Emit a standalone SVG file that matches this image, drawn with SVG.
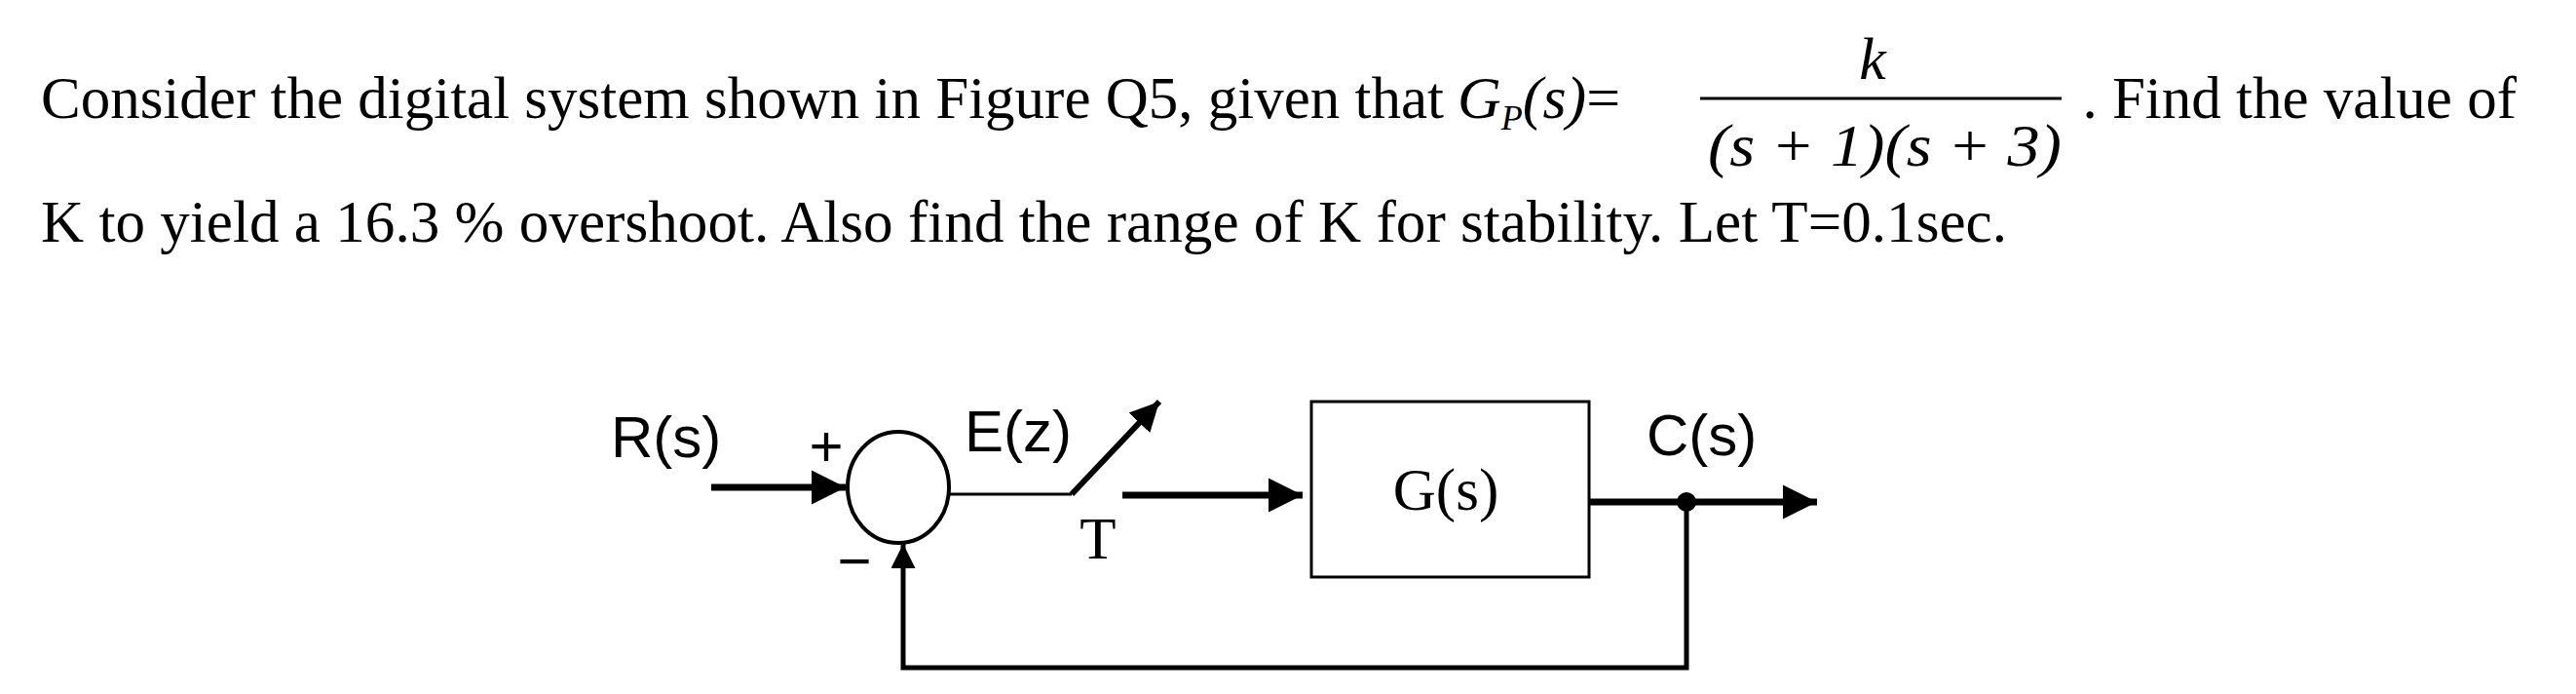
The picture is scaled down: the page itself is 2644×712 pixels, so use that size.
<svg xmlns="http://www.w3.org/2000/svg" width="2644" height="712" viewBox="0 0 2644 712">
<style>
.t{font-family:"Liberation Serif",serif;font-size:61px;fill:#000}
.m{font-family:"Liberation Serif",serif;font-size:62px;font-style:italic;fill:#000}
.s{font-family:"Liberation Sans",sans-serif;font-size:60px;fill:#000}
.w{stroke:#000;fill:none}
</style>
<defs>
<marker id="a" viewBox="0 0 10 10" refX="10" refY="5" markerWidth="5" markerHeight="6" markerUnits="strokeWidth" orient="auto"><path d="M0,0L10,5L0,10z" fill="#000"/></marker>
<marker id="b" viewBox="0 0 10 10" refX="10" refY="5" markerWidth="5" markerHeight="5" markerUnits="strokeWidth" orient="auto"><path d="M0,0L10,5L0,10z" fill="#000"/></marker>
</defs>
<g id="text">
<text class="t" x="42" y="121" textLength="1440" lengthAdjust="spacingAndGlyphs">Consider the digital system shown in Figure Q5, given that</text>
<text class="m" x="1496" y="121">G<tspan font-size="36" dy="12">P</tspan><tspan dy="-12">(s)</tspan><tspan font-style="normal">=</tspan></text>
<text class="m" x="1922" y="81" text-anchor="middle">k</text>
<line x1="1745" y1="101" x2="2116" y2="101" stroke="#000" stroke-width="3"/>
<text class="m" x="1753" y="170" textLength="363" lengthAdjust="spacingAndGlyphs">(s + 1)(s + 3)</text>
<text class="t" x="2583" y="121" text-anchor="end">. Find the value of</text>
<text class="t" x="42" y="248" textLength="2018" lengthAdjust="spacingAndGlyphs">K to yield a 16.3 % overshoot. Also find the range of K for stability. Let T=0.1sec.</text>
</g>
<g id="connectors">
<line class="w" x1="730" y1="500" x2="868" y2="500" stroke-width="7" marker-end="url(#a)"/>
<line class="w" x1="975" y1="507" x2="1100" y2="507" stroke-width="3"/>
<line class="w" x1="1100" y1="507" x2="1190" y2="412" stroke-width="6" marker-end="url(#a)"/>
<line class="w" x1="1152" y1="508" x2="1337" y2="508" stroke-width="7" marker-end="url(#a)"/>
<line class="w" x1="1631" y1="515" x2="1865" y2="515" stroke-width="7" marker-end="url(#a)"/>
<polyline class="w" points="1731,515 1731,685 927,685 927,558" stroke-width="5" marker-end="url(#b)"/>
<circle cx="1731" cy="515" r="10" fill="#000"/>
</g>
<g id="sum">
<ellipse class="w" cx="922" cy="500" rx="52" ry="57" stroke-width="4"/>
<text class="s" x="848" y="478" font-size="44" text-anchor="middle">+</text>
<text class="s" x="877" y="596" font-size="44" text-anchor="middle">−</text>
</g>
<g id="labels">
<text class="s" x="627" y="469">R(s)</text>
<text class="s" x="990" y="463">E(z)</text>
<text class="t" x="1127" y="573" text-anchor="middle">T</text>
<text class="s" x="1690" y="467">C(s)</text>
</g>
<g id="G">
<rect class="w" x="1346" y="412" width="285" height="180" stroke-width="3"/>
<text class="t" x="1484" y="523" text-anchor="middle" font-size="62">G(s)</text>
</g>
</svg>
